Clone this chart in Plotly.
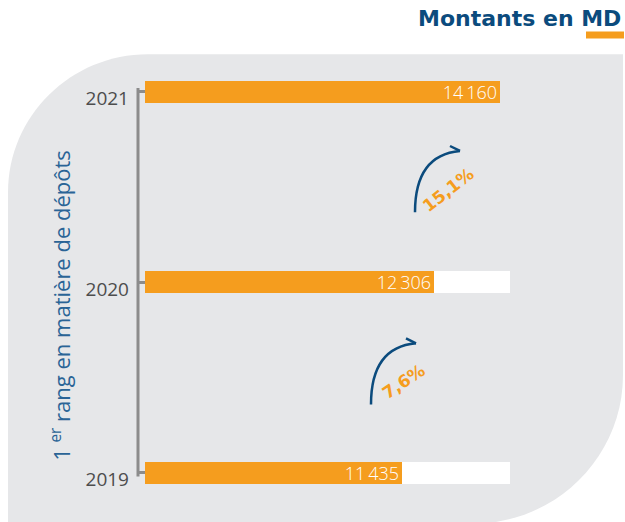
import plotly.graph_objects as go

W, H = 625, 522

years = ["2019", "2020", "2021"]
montants = [11435, 12306, 14160]
piste = [14430, 14430, None]  # fond blanc derrière les barres 2019 et 2020

ORANGE = "#f59d1e"
BLEU = "#0b4b7d"
BLEU_CLAIR = "#2a6496"
GRIS = "#8c8c8c"
FOND = "#e6e7e9"


def px(x):
    return x / W


def py(y):
    return 1 - y / H


def fmt(v):
    return f"{v:,}".replace(",", "\u2009")


def path(points):
    # points: liste de (commande, [(x, y), ...]) en pixels
    out = []
    for cmd, pts in points:
        out.append(cmd + " " + " ".join(f"{px(a):.4f},{py(b):.4f}" for a, b in pts))
    return " ".join(out)


growth = [(montants[i + 1] / montants[i] - 1) * 100 for i in range(len(montants) - 1)]
growth_txt = [f"{g:.1f}%".replace(".", ",") for g in growth]

fig = go.Figure()

fig.add_trace(go.Bar(
    y=years, x=piste, orientation="h", width=0.115,
    marker=dict(color="white", line=dict(width=0)),
    hoverinfo="skip", showlegend=False,
))
fig.add_trace(go.Bar(
    y=years, x=montants, orientation="h", width=0.115,
    marker=dict(color=ORANGE, line=dict(width=0)),
    text=[fmt(v) for v in montants],
    textposition="inside", insidetextanchor="end", constraintext="none",
    textfont=dict(color="white", size=18, family="Open Sans", weight=300),
    showlegend=False,
))

# fond gris arrondi
r1 = 140
r2 = 151
k = 0.552
bg = path([
    ("M", [(8, 55 + r1)]),
    ("C", [(8, 55 + r1 - k * r1), (8 + r1 - k * r1, 55), (8 + r1, 55)]),
    ("L", [(623, 55)]),
    ("L", [(623, 380)]),
    ("C", [(623, 380 + k * r2), (472 + k * r2, 531), (472, 531)]),
    ("L", [(8, 531)]),
]) + " Z"

shapes = [
    dict(type="path", path=bg, xref="paper", yref="paper",
         fillcolor=FOND, line=dict(width=0), layer="below"),
    # crochet de l'axe
    dict(type="line", xref="paper", yref="y", x0=px(138), x1=px(138), y0=-0.02, y1=2.02,
         line=dict(color=GRIS, width=3)),
    # soulignement orange de MD
    dict(type="rect", xref="paper", yref="paper", x0=px(586), x1=px(624), y0=py(39), y1=py(32),
         fillcolor=ORANGE, line=dict(width=0)),
]

# flèches courbes
for dx, dy in [(0, 0), (-44, 195)]:
    sx, sy = 415 + dx, 215 + dy
    tx, ty = 460 + dx, 153 + dy
    shapes.append(dict(
        type="path", xref="paper", yref="paper",
        path=path([("M", [(sx, sy)]), ("Q", [(sx, sy - 58), (tx, ty)])]),
        line=dict(color=BLEU, width=2.5),
    ))
    shapes.append(dict(
        type="path", xref="paper", yref="paper",
        path=path([("M", [(tx - 10, ty - 5)]), ("L", [(tx, ty), (tx - 5, ty + 9)])]),
        line=dict(color=BLEU, width=2.5),
    ))

annotations = [
    dict(text="Montants en MD", x=px(623), y=py(19), xref="paper", yref="paper",
         xanchor="right", yanchor="middle", showarrow=False,
         font=dict(family="DejaVu Sans", size=22, color=BLEU, weight="bold")),
    dict(text="1 <sup>er</sup> rang en matière de dépôts", x=px(61), y=py(310),
         xref="paper", yref="paper", textangle=-90, showarrow=False,
         xanchor="center", yanchor="middle",
         font=dict(family="Open Sans", size=22, color=BLEU_CLAIR)),
    dict(text=growth_txt[1], x=px(448), y=py(193), xref="paper", yref="paper",
         textangle=-38, showarrow=False, xanchor="center", yanchor="middle",
         font=dict(family="DejaVu Sans", size=17, color=ORANGE, weight="bold")),
    dict(text=growth_txt[0], x=px(403), y=py(387), xref="paper", yref="paper",
         textangle=-34, showarrow=False, xanchor="center", yanchor="middle",
         font=dict(family="DejaVu Sans", size=17, color=ORANGE, weight="bold")),
]

fig.update_layout(
    width=W, height=H,
    margin=dict(l=0, r=0, t=0, b=0),
    paper_bgcolor="white", plot_bgcolor="rgba(0,0,0,0)",
    barmode="overlay", bargap=0,
    uniformtext=dict(minsize=18, mode="show"),
    shapes=shapes, annotations=annotations,
    xaxis=dict(domain=[px(145), px(600)], range=[4300, 16925],
               visible=False, fixedrange=True),
    yaxis=dict(type="category", categoryorder="array", categoryarray=years,
               domain=[py(492), py(80)], range=[-0.067, 2.067],
               anchor="free", position=px(138),
               showline=False, showgrid=False, zeroline=False,
               ticks="inside", ticklen=6, tickwidth=3, tickcolor=GRIS,
               ticklabelstandoff=9, ticklabelshift=7,
               tickfont=dict(family="Open Sans", size=19, color="#4d4d4d"),
               fixedrange=True),
)

fig.write_html(
    "out.html",
    config={"displayModeBar": False},
    post_script=(
        "document.body.style.margin='0';"
        "var d=document.querySelector('.plotly-graph-div');"
        "d.style.position='absolute';d.style.top='0';d.style.left='0';"
    ),
)
